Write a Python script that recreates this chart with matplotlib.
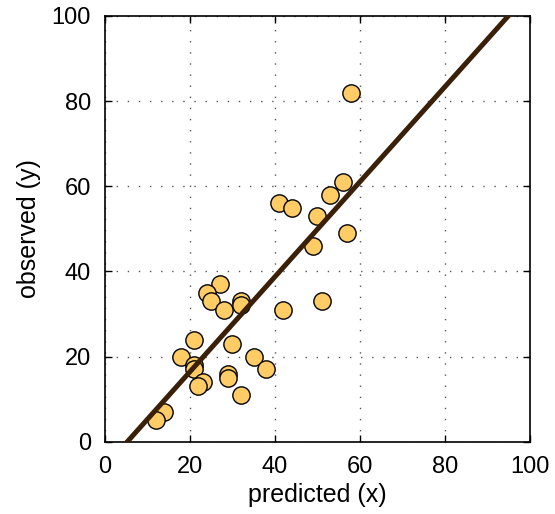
import numpy as np
import matplotlib.pyplot as plt

plt.rcParams['font.family'] = ['Liberation Sans', 'DejaVu Sans']

pred = [27, 24, 25, 28, 32, 32, 42, 21, 30, 18, 21, 21, 35, 38, 29, 29, 23, 22, 32, 14, 12,
        58, 41, 44, 50, 53, 56, 49, 57, 51]
obs = [37, 35, 33, 31, 33, 32, 31, 24, 23, 20, 18, 17, 20, 17, 16, 15, 14, 13, 11, 7, 5,
       82, 56, 55, 53, 58, 61, 46, 49, 33]

# fitted line
slope = 1.116
intercept = -5.9

fig = plt.figure(figsize=(5.55, 5.14), dpi=100)
ax = fig.add_axes([0.189, 0.1407, 0.766, 0.8283])

xl = np.array([0, 100])
ax.plot(xl, slope * xl + intercept, color='#3a2008', lw=3.6, zorder=3)
ax.scatter(pred, obs, s=155, facecolor='#ffcc66', edgecolor='black', linewidth=1.0, zorder=2)

ax.set_xlim(0, 100)
ax.set_ylim(0, 100)
ax.set_xticks(range(0, 101, 20))
ax.set_yticks(range(0, 101, 20))
ax.grid(True, linestyle=(0, (1, 7)), color='#555555', linewidth=1.0)
ax.tick_params(direction='in', top=True, right=True, labelsize=17, length=5, width=1, pad=10)
for s in ax.spines.values():
    s.set_linewidth(1.2)

ax.set_xlabel('predicted (x)', fontsize=18, labelpad=4)
ax.set_ylabel('observed (y)', fontsize=18, labelpad=8)

fig.savefig('out.png', dpi=100)
